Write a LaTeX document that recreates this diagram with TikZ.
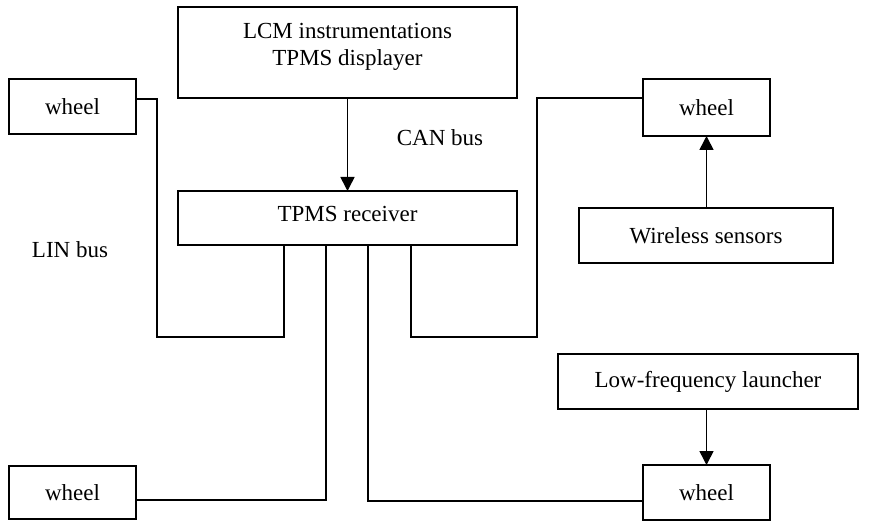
\documentclass[tikz,border=0pt]{standalone}
\usepackage{fontspec}
\setmainfont{Liberation Serif}
\usetikzlibrary{arrows.meta}
\begin{document}
\begin{tikzpicture}[x=1pt,y=1pt,
  blk/.style={draw, line width=1.8pt, inner sep=0pt, outer sep=0pt, align=center,
    font=\fontsize{23}{27}\selectfont},
  wire/.style={line width=1.6pt},
  arr/.style={line width=1.6pt, -{Triangle[width=14pt,length=14pt]}},
  lbl/.style={font=\fontsize{23}{27}\selectfont, inner sep=0pt, align=center}]
\useasboundingbox (0,0) rectangle (872,-521);

% blocks
\node[blk, minimum width=339, minimum height=91] (lcm) at (347.5,-52.5) {};
\node[lbl, yshift=6] (lcmtext) at (lcm.center) {LCM instrumentations\\TPMS displayer};
\node[blk, minimum width=339, minimum height=54] (rcv) at (347.5,-218) {};
\node[lbl, yshift=4] (rcvtext) at (rcv.center) {TPMS receiver};
\node[blk, minimum width=127, minimum height=55] (tlw) at (72.5,-106.5) {wheel};
\node[blk, minimum width=127, minimum height=57] (trw) at (706.5,-107.5) {wheel};
\node[blk, minimum width=254, minimum height=55] (ws)  at (706,-235.5) {Wireless sensors};
\node[blk, minimum width=300, minimum height=55] (lfl) at (708,-381.5) {Low-frequency launcher};
\node[blk, minimum width=127, minimum height=53] (blw) at (72.5,-492.5) {wheel};
\node[blk, minimum width=127, minimum height=55] (brw) at (706.5,-492.5) {wheel};

% labels
\node[lbl] (can) at (440,-138) {CAN bus};
\node[lbl] (lin) at (70,-250) {LIN bus};

% arrows
\draw[arr] (lcm.south) -- (rcv.north);
\draw[arr] (trw.south |- ws.north) -- (trw.south);
\draw[arr] (brw.north |- lfl.south) -- (brw.north);

% bus wiring from the receiver to the wheels
\draw[wire] ([yshift=7.5]tlw.east) -| (157,-337) -| ([xshift=-63.5]rcv.south);
\draw[wire] ([yshift=9.5]trw.west) -| (537,-337) -| ([xshift=63.5]rcv.south);
\draw[wire] ([yshift=-7.5]blw.east) -| ([xshift=-21.5]rcv.south);
\draw[wire] ([yshift=-8.5]brw.west) -| ([xshift=20.5]rcv.south);
\end{tikzpicture}
\end{document}
